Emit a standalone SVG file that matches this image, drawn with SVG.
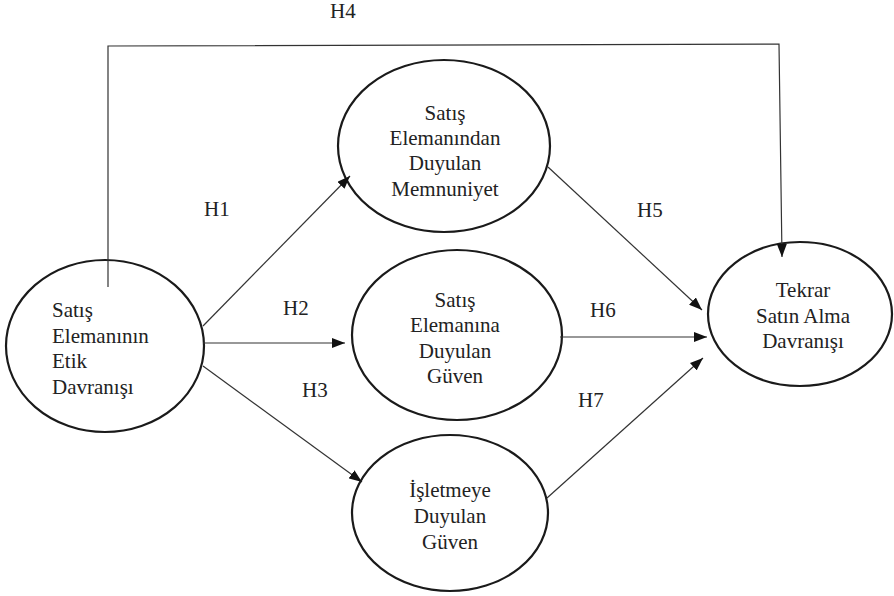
<svg xmlns="http://www.w3.org/2000/svg" width="894" height="596" viewBox="0 0 894 596" font-family="'Liberation Serif', 'DejaVu Serif', serif">
<style>
.node ellipse{fill:#fff;stroke:#1a1a1a;stroke-width:2.2}
text{font-family:'Liberation Serif','DejaVu Serif',serif;font-size:21px;fill:#222}
.c{text-anchor:middle}
.edge{fill:none;stroke:#333;stroke-width:1.2}
</style>
<defs>
<marker id="ah" markerUnits="userSpaceOnUse" markerWidth="14" markerHeight="10" refX="13" refY="5" orient="auto">
<path d="M0,0 L13,5 L0,10 z" fill="#111"/>
</marker>
</defs>
<rect width="894" height="596" fill="#fff"/>
<g id="labels">
<text x="330" y="18">H4</text>
<text x="204" y="216">H1</text>
<text x="283" y="315">H2</text>
<text x="302" y="397">H3</text>
<text x="637" y="217">H5</text>
<text x="590" y="317">H6</text>
<text x="578" y="407">H7</text>
</g>
<g id="node-etik" class="node">
<ellipse cx="105" cy="346" rx="99" ry="86"/>
<text x="52" y="317">Satış</text>
<text x="52" y="343">Elemanının</text>
<text x="52" y="368">Etik</text>
<text x="52" y="394">Davranışı</text>
</g>
<g id="node-memnuniyet" class="node">
<ellipse cx="444" cy="146" rx="106" ry="86"/>
<text class="c" x="445" y="120">Satış</text>
<text class="c" x="445" y="145">Elemanından</text>
<text class="c" x="445" y="170">Duyulan</text>
<text class="c" x="445" y="196">Memnuniyet</text>
</g>
<g id="node-guven" class="node">
<ellipse cx="457" cy="335" rx="105" ry="85"/>
<text class="c" x="455" y="307">Satış</text>
<text class="c" x="455" y="332">Elemanına</text>
<text class="c" x="455" y="358">Duyulan</text>
<text class="c" x="455" y="383">Güven</text>
</g>
<g id="node-isletme" class="node">
<ellipse cx="450" cy="513" rx="98" ry="78"/>
<text class="c" x="450" y="497">İşletmeye</text>
<text class="c" x="450" y="523">Duyulan</text>
<text class="c" x="450" y="549">Güven</text>
</g>
<g id="node-tekrar" class="node">
<ellipse cx="800" cy="314" rx="92" ry="72"/>
<text class="c" x="803" y="297">Tekrar</text>
<text class="c" x="803" y="323">Satın Alma</text>
<text class="c" x="803" y="348">Davranışı</text>
</g>
<g id="connectors">
<polyline class="edge" points="108,287 108,46 779,44 782,257" marker-end="url(#ah)"/>
<line class="edge" x1="203" y1="326" x2="350" y2="176" marker-end="url(#ah)"/>
<line class="edge" x1="203" y1="343" x2="345" y2="343" marker-end="url(#ah)"/>
<line class="edge" x1="203" y1="366" x2="362" y2="482" marker-end="url(#ah)"/>
<line class="edge" x1="548" y1="167" x2="702" y2="310" marker-end="url(#ah)"/>
<line class="edge" x1="560" y1="337" x2="707" y2="337" marker-end="url(#ah)"/>
<line class="edge" x1="547" y1="498" x2="703" y2="358" marker-end="url(#ah)"/>
</g>
</svg>
